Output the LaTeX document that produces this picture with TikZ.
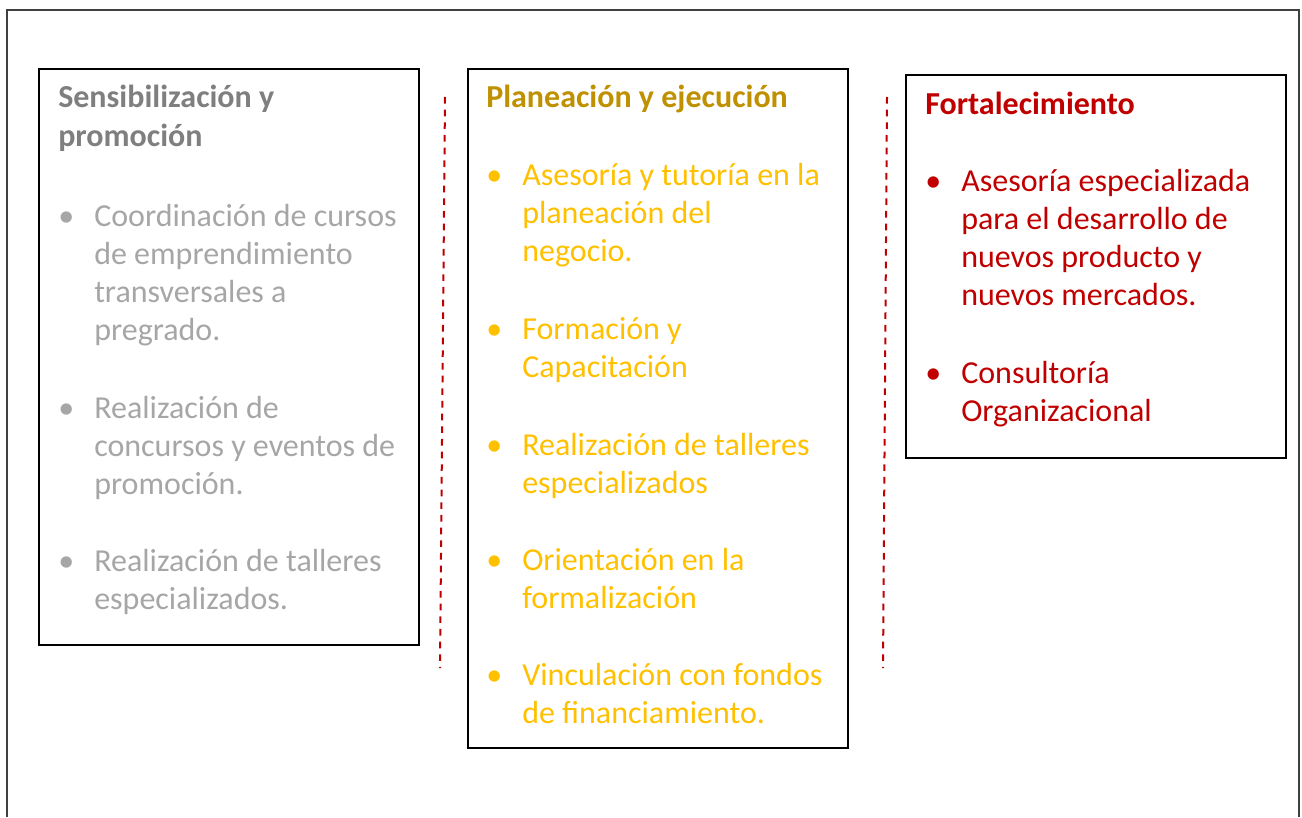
\documentclass[tikz,border=0pt]{standalone}
\usepackage{fontspec}
\setmainfont{Carlito}
\usepackage{tikz}
\usetikzlibrary{positioning}
\definecolor{headgray}{HTML}{7F7F7F}
\definecolor{bodygray}{HTML}{A6A6A6}
\definecolor{headgold}{HTML}{BF9000}
\definecolor{bodygold}{HTML}{FFC000}
\definecolor{darkred}{HTML}{C00000}
\definecolor{framegray}{HTML}{404040}

\tikzset{
  panel/.style={draw=black, line width=1.5pt, inner sep=0pt, anchor=north west},
  txt/.style={font=\fontsize{24}{28.5}\selectfont, align=left, inner sep=0pt, anchor=base west},
  head/.style={txt, font=\fontsize{24}{28.5}\selectfont\bfseries},
  divider/.style={draw=darkred, line width=1.5pt, dash pattern=on 5pt off 4.5pt},
}

\begin{document}
\begin{tikzpicture}[x=0.75pt,y=-0.75pt]
  \useasboundingbox (0,0) rectangle (1302,817);
  % outer frame, open at the bottom
  \draw[framegray,line width=1.1pt] (7,817) -- (7,10) -- (1299,10) -- (1299,817);

  % three panels
  \node[panel, minimum width=285pt, minimum height=432pt] (sens) at (38,68) {};
  \node[panel, minimum width=285pt, minimum height=509.25pt] (plan) at (467,68) {};
  \node[panel, minimum width=285pt, minimum height=287.25pt] (fort) at (905,74) {};

  % dashed separators
  \coordinate (sepAtop) at (445,97);
  \coordinate (sepAbot) at (440,668);
  \coordinate (sepBtop) at (887,97);
  \coordinate (sepBbot) at (883,668);
  \draw[divider] (sepAtop) -- (sepAbot);
  \draw[divider] (sepBtop) -- (sepBbot);

  % Sensibilizacion y promocion (text nodes sit on their last baseline)
  \node[head, headgray] (sensT) at (58,146) {Sensibilización y\\promoción};
  \node[txt, bodygray] (sensB1) at (58,226) {•};
  \node[txt, bodygray] (sens1) at (94,340) {Coordinación de cursos\\de emprendimiento\\transversales a\\pregrado.};
  \node[txt, bodygray] (sensB2) at (58,418) {•};
  \node[txt, bodygray] (sens2) at (94,494) {Realización de\\concursos y eventos de\\promoción.};
  \node[txt, bodygray] (sensB3) at (58,571) {•};
  \node[txt, bodygray] (sens3) at (94,609) {Realización de talleres\\especializados.};

  % Planeacion y ejecucion
  \node[head, headgold] (planT) at (486,108) {Planeación y ejecución};
  \node[txt, bodygold] (planB1) at (486,185) {•};
  \node[txt, bodygold] (plan1) at (522,261) {Asesoría y tutoría en la\\planeación del\\negocio.};
  \node[txt, bodygold] (planB2) at (486,339) {•};
  \node[txt, bodygold] (plan2) at (522,377) {Formación y\\Capacitación};
  \node[txt, bodygold] (planB3) at (486,455) {•};
  \node[txt, bodygold] (plan3) at (522,493) {Realización de talleres\\especializados};
  \node[txt, bodygold] (planB4) at (486,570) {•};
  \node[txt, bodygold] (plan4) at (522,608) {Orientación en la\\formalización};
  \node[txt, bodygold] (planB5) at (486,685) {•};
  \node[txt, bodygold] (plan5) at (522,723) {Vinculación con fondos\\de financiamiento.};

  % Fortalecimiento
  \node[head, darkred] (fortT) at (925,114) {Fortalecimiento};
  \node[txt, darkred] (fortB1) at (925,191) {•};
  \node[txt, darkred] (fort1) at (961,305) {Asesoría especializada\\para el desarrollo de\\nuevos producto y\\nuevos mercados.};
  \node[txt, darkred] (fortB2) at (925,383) {•};
  \node[txt, darkred] (fort2) at (961,421) {Consultoría\\Organizacional};
\end{tikzpicture}
\end{document}
